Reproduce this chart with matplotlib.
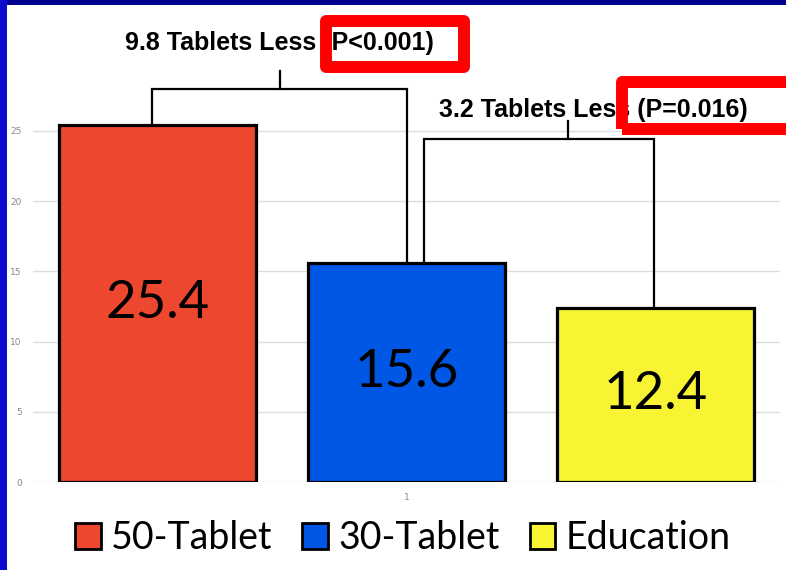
import matplotlib
matplotlib.use("Agg")
import matplotlib.pyplot as plt
from matplotlib.patches import Rectangle, Patch
import numpy as np

# ---- data ----
groups = ["50-Tablet", "30-Tablet", "Education"]
values = [25.4, 15.6, 12.4]
colors = ["#EE4730", "#0057E6", "#F8F434"]
value_labels = ["25.4", "15.6", "12.4"]
yticks = [0, 5, 10, 15, 20, 25]
xtick_label = ["1"]
comparisons = [
    # (from group, to group, bracket height, text, p-text)
    (0, 1, 28.0, "9.8 Tablets Less", "(P<0.001)"),
    (1, 2, 24.4, "3.2 Tablets Less", "(P=0.016)"),
]

W, H = 786, 570
fig = plt.figure(figsize=(W / 100, H / 100), dpi=100)
fig.patch.set_facecolor("white")

px_per_unit = (482 - 131) / 25.0
ax = fig.add_axes([33 / W, (H - 482) / H, (780 - 33) / W, 482 / H])
ax.set_xlim(-0.5, 2.5)
ax.set_ylim(0, 482 / px_per_unit)
ax.set_facecolor("none")
for s in ax.spines.values():
    s.set_visible(False)

x = np.arange(len(groups))
bars = ax.bar(x, values, width=0.79, color=colors, edgecolor="black",
              linewidth=2.3, zorder=3)

for xi, v, lab in zip(x, values, value_labels):
    ax.text(xi, v / 2, lab, ha="center", va="center", fontsize=38,
            family="Lato", color="black", zorder=4)

ax.set_yticks(yticks)
ax.set_yticklabels([str(t) for t in yticks], fontsize=6.5, color="#888888")
ax.yaxis.grid(True, color="#DDDDDD", linewidth=1.0, zorder=0)
ax.tick_params(axis="y", length=0, pad=8)
ax.set_xticks([1])
ax.set_xticklabels(xtick_label, fontsize=6.5, color="#888888")
ax.tick_params(axis="x", length=0, pad=8)

# brackets
lw = 1.6
offsets = [(-0.022, 0.0, 0.49, 31.25), (0.07, -0.006, 1.65, 26.5)]
for (a, b, h, t1, t2), (oa, ob, tickx, ty) in zip(comparisons, offsets):
    xa, xb = x[a] + oa, x[b] + ob
    ax.plot([xa, xa, xb, xb], [values[a], h, h, values[b]], color="black",
            lw=lw, solid_joinstyle="miter", zorder=5)
    ax.plot([tickx, tickx], [h, h + 1.28], color="black", lw=lw, zorder=5)

ax.text(0.488, 31.3, comparisons[0][3] + " " + comparisons[0][4], ha="center",
        va="center", fontsize=18, fontweight="bold", family="Liberation Sans",
        zorder=6)
ax.text(1.75, 26.5, comparisons[1][3] + " " + comparisons[1][4], ha="center",
        va="center", fontsize=18, fontweight="bold", family="Liberation Sans",
        zorder=6)

# red highlight boxes (figure pixel coordinates)
def redbox(x0, y0, x1, y1):
    fig.add_artist(Rectangle((x0 / W, 1 - y1 / H), (x1 - x0) / W, (y1 - y0) / H,
                             transform=fig.transFigure, fill=False,
                             edgecolor="#FF0000", linewidth=8.6,
                             joinstyle="round", zorder=10))

redbox(326, 21, 464, 67)
redbox(622, 82, 820, 129)

# legend
handles = [Patch(facecolor=c, edgecolor="black", linewidth=2.0) for c in colors]
fig.legend(handles, groups, loc="center", bbox_to_anchor=(403 / W, 1 - 538 / H),
           ncol=3, frameon=False, prop={"family": "Lato", "size": 27},
           handlelength=0.68, handleheight=0.68, handletextpad=0.28,
           columnspacing=0.8, borderaxespad=0, borderpad=0)

# blue slide frame
fig.add_artist(Rectangle((0, 1 - 5 / H), 1, 5 / H, transform=fig.transFigure,
                         facecolor="#000090", edgecolor="none", zorder=20))
fig.add_artist(Rectangle((0, 0), 7 / W, 1, transform=fig.transFigure,
                         facecolor="#0A0ACC", edgecolor="none", zorder=20))

fig.savefig("out.png", dpi=100)
